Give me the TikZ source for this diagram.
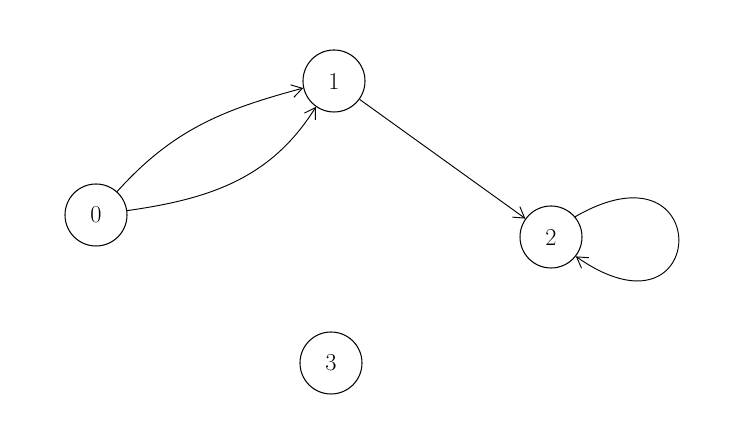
\documentclass[tikz,border=0pt]{standalone}
\usepackage{tikz}
\usetikzlibrary{arrows.meta}

\begin{document}
\begin{tikzpicture}[
        x=0.03cm,y=0.03cm,
        vertex/.style={draw,circle,line width=0.9pt,minimum size=1.86cm,
                       inner sep=0pt,font=\huge},
        arr/.style={-{Straight Barb[length=9pt,width=11pt]},line width=0.8pt}]
        \useasboundingbox (0,0) rectangle (748,430);
        \node[vertex] (n0) at (96,215)  {0};
        \node[vertex] (n1) at (334,349) {1};
        \node[vertex] (n2) at (551,193) {2};
        \node[vertex] (n3) at (331,67)  {3};
        \draw[arr] (n0) to[out=48,in=195] (n1.193);
        \draw[arr] (n0.8) to[out=8,in=238] (n1.235);
        \draw[arr] (n1) -- (n2);
        \draw[arr] (n2.40) to[out=30,in=-35,min distance=4.9cm] (n2.-38);
      \end{tikzpicture}
\end{document}
